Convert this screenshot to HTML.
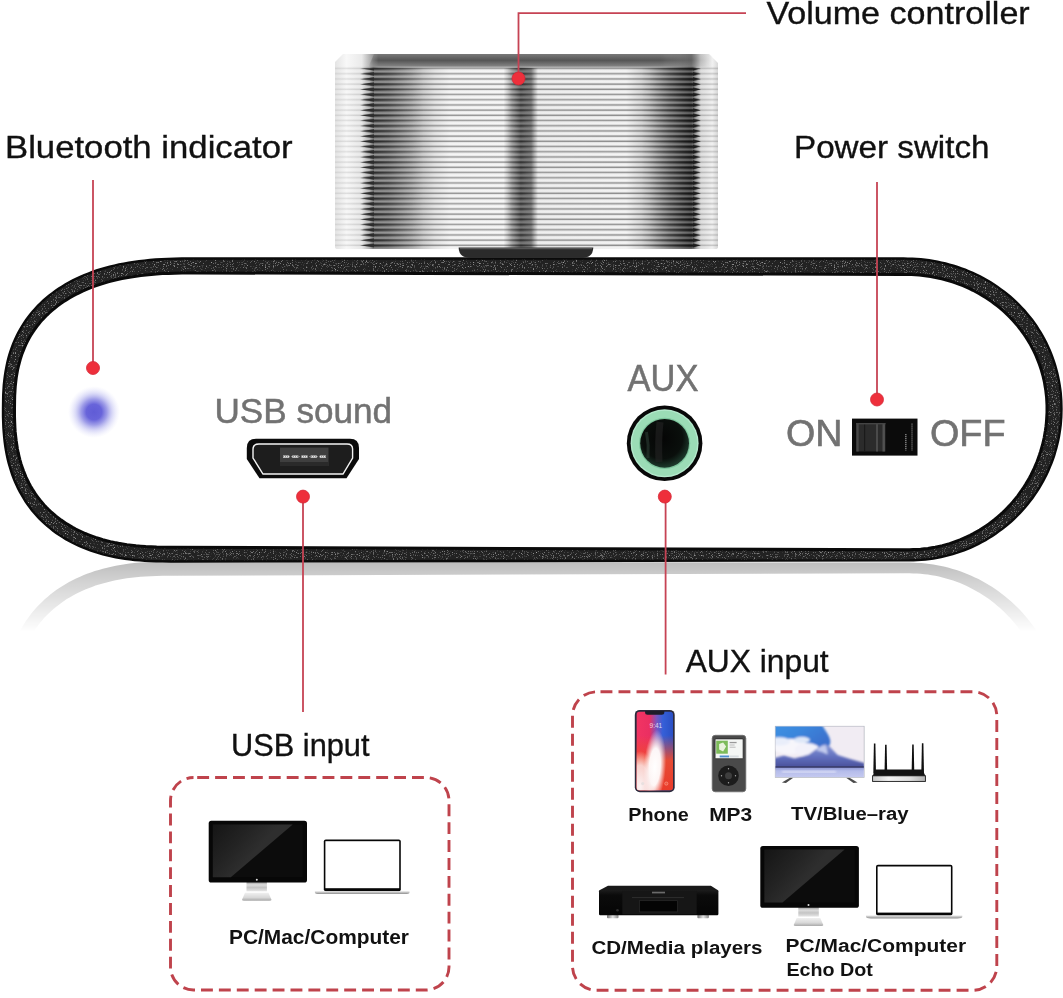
<!DOCTYPE html>
<html lang="en"><head><meta charset="utf-8"><title>Bluetooth amplifier ports</title>
<style>
html,body{margin:0;padding:0;background:#fff;}
body{width:1063px;height:998px;overflow:hidden;position:relative;}
svg{position:absolute;left:0;top:0;display:block;}
text{font-family:"Liberation Sans",sans-serif;}
#txt{opacity:0.999;}
</style></head><body>
<svg width="1063" height="998" viewBox="0 0 1063 998">
<defs>
<linearGradient id="knobH" x1="0" x2="1" y1="0" y2="0">
 <stop offset="0" stop-color="#e4e4e4"/>
 <stop offset="0.03" stop-color="#f8f8f8"/>
 <stop offset="0.07" stop-color="#eaeaea"/>
 <stop offset="0.10" stop-color="#9a9a9a"/>
 <stop offset="0.14" stop-color="#9c9c9c"/>
 <stop offset="0.20" stop-color="#bcbcbc"/>
 <stop offset="0.26" stop-color="#e8e8e8"/>
 <stop offset="0.30" stop-color="#f8f8f8"/>
 <stop offset="0.44" stop-color="#fafafa"/>
 <stop offset="0.462" stop-color="#b0b0b0"/>
 <stop offset="0.485" stop-color="#7c7c7c"/>
 <stop offset="0.512" stop-color="#868686"/>
 <stop offset="0.53" stop-color="#f2f2f2"/>
 <stop offset="0.76" stop-color="#f8f8f8"/>
 <stop offset="0.82" stop-color="#d0d0d0"/>
 <stop offset="0.875" stop-color="#969696"/>
 <stop offset="0.93" stop-color="#6a6a6a"/>
 <stop offset="0.955" stop-color="#e0e0e0"/>
 <stop offset="0.985" stop-color="#f2f2f2"/>
 <stop offset="1" stop-color="#d8d8d8"/>
</linearGradient>
<linearGradient id="ridge" x1="0" x2="0" y1="0" y2="1">
 <stop offset="0" stop-color="#000" stop-opacity="0.9"/>
 <stop offset="0.1" stop-color="#000" stop-opacity="0.6"/>
 <stop offset="0.24" stop-color="#000" stop-opacity="0.14"/>
 <stop offset="0.5" stop-color="#000" stop-opacity="0.0"/>
 <stop offset="0.84" stop-color="#000" stop-opacity="0.08"/>
 <stop offset="0.94" stop-color="#000" stop-opacity="0.5"/>
 <stop offset="1" stop-color="#000" stop-opacity="0.9"/>
</linearGradient>
<linearGradient id="ridge2" x1="0" x2="0" y1="0" y2="1">
 <stop offset="0" stop-color="#000" stop-opacity="0.8"/>
 <stop offset="0.3" stop-color="#000" stop-opacity="0.7"/>
 <stop offset="0.5" stop-color="#000" stop-opacity="0.1"/>
 <stop offset="0.7" stop-color="#000" stop-opacity="0.0"/>
 <stop offset="0.8" stop-color="#000" stop-opacity="0.3"/>
 <stop offset="1" stop-color="#000" stop-opacity="0.8"/>
</linearGradient>
<pattern id="ridges" x="0" y="68.3" width="10" height="5.2" patternUnits="userSpaceOnUse">
 <rect x="0" y="0" width="10" height="5.2" fill="url(#ridge)"/>
</pattern>
<pattern id="ridges2" x="0" y="68.3" width="10" height="5.2" patternUnits="userSpaceOnUse">
 <rect x="0" y="0" width="10" height="5.2" fill="url(#ridge2)"/>
</pattern>
<pattern id="teethL" x="0" y="68.3" width="20" height="5.2" patternUnits="userSpaceOnUse">
 <path d="M14 -1.5 L0 0.3 L14 2.2Z M14 3.7 L0 5.5 L14 7.4Z" fill="#2c2c2c"/>
</pattern>
<pattern id="teethR" x="693" y="68.3" width="20" height="5.2" patternUnits="userSpaceOnUse">
 <path d="M0 -1.5 L8 0.3 L0 2.2Z M0 3.7 L8 5.5 L0 7.4Z" fill="#1c1c1c"/>
</pattern>
<linearGradient id="ridgeMaskG" x1="0" x2="1" y1="0" y2="0">
 <stop offset="0" stop-color="#fff" stop-opacity="0.12"/>
 <stop offset="0.07" stop-color="#fff" stop-opacity="0.2"/>
 <stop offset="0.10" stop-color="#fff" stop-opacity="0.7"/>
 <stop offset="0.25" stop-color="#fff" stop-opacity="0.6"/>
 <stop offset="0.44" stop-color="#fff" stop-opacity="0.6"/>
 <stop offset="0.49" stop-color="#fff" stop-opacity="0.7"/>
 <stop offset="0.54" stop-color="#fff" stop-opacity="0.6"/>
 <stop offset="0.93" stop-color="#fff" stop-opacity="0.7"/>
 <stop offset="0.955" stop-color="#fff" stop-opacity="0.3"/>
 <stop offset="1" stop-color="#fff" stop-opacity="0.25"/>
</linearGradient>
<mask id="ridgeMask"><rect x="335" y="66" width="383" height="184" fill="url(#ridgeMaskG)"/></mask>
<linearGradient id="ridgeMaskG2" x1="0" x2="1" y1="0" y2="0">
 <stop offset="0.09" stop-color="#fff" stop-opacity="0"/>
 <stop offset="0.10" stop-color="#fff" stop-opacity="0.7"/>
 <stop offset="0.14" stop-color="#fff" stop-opacity="0.45"/>
 <stop offset="0.23" stop-color="#fff" stop-opacity="0"/>
 <stop offset="0.45" stop-color="#fff" stop-opacity="0"/>
 <stop offset="0.485" stop-color="#fff" stop-opacity="0.4"/>
 <stop offset="0.52" stop-color="#fff" stop-opacity="0"/>
 <stop offset="0.80" stop-color="#fff" stop-opacity="0"/>
 <stop offset="0.88" stop-color="#fff" stop-opacity="0.5"/>
 <stop offset="0.935" stop-color="#fff" stop-opacity="0.9"/>
 <stop offset="0.945" stop-color="#fff" stop-opacity="0"/>
</linearGradient>
<mask id="ridgeMask2"><rect x="335" y="66" width="383" height="184" fill="url(#ridgeMaskG2)"/></mask>
<linearGradient id="knobTop" x1="0" x2="0" y1="0" y2="1">
 <stop offset="0" stop-color="#7a7a7a"/>
 <stop offset="0.45" stop-color="#555"/>
 <stop offset="0.85" stop-color="#808080"/>
 <stop offset="1" stop-color="#e8e8e8"/>
</linearGradient>
<linearGradient id="knobTopM" x1="0" x2="1" y1="0" y2="0">
 <stop offset="0" stop-color="#fff" stop-opacity="0"/>
 <stop offset="0.03" stop-color="#fff" stop-opacity="1"/>
 <stop offset="0.85" stop-color="#fff" stop-opacity="1"/>
 <stop offset="0.96" stop-color="#fff" stop-opacity="0.3"/>
 <stop offset="1" stop-color="#fff" stop-opacity="0"/>
</linearGradient>
<mask id="knobTopMask"><rect x="368" y="50" width="345" height="20" fill="url(#knobTopM)"/></mask>
<radialGradient id="led">
 <stop offset="0" stop-color="#605cd6"/>
 <stop offset="0.3" stop-color="#6864da"/>
 <stop offset="0.5" stop-color="#8e8ce4" stop-opacity="0.85"/>
 <stop offset="0.72" stop-color="#b8b8f0" stop-opacity="0.5"/>
 <stop offset="1" stop-color="#dcdcfa" stop-opacity="0"/>
</radialGradient>
<filter id="noise" x="0" y="0" width="100%" height="100%">
 <feTurbulence type="fractalNoise" baseFrequency="0.9" numOctaves="2" seed="3" result="n"/>
 <feColorMatrix in="n" type="matrix" values="0 0 0 0 0.36  0 0 0 0 0.36  0 0 0 0 0.36  1.5 1.5 1.5 0 -2.45" result="a"/>
 <feComposite in="a" in2="SourceGraphic" operator="in" result="sp"/>
 <feMerge><feMergeNode in="SourceGraphic"/><feMergeNode in="sp"/></feMerge>
</filter>
<linearGradient id="reflMaskG" x1="0" x2="0" y1="561" y2="632" gradientUnits="userSpaceOnUse">
<stop offset="0" stop-color="#fff" stop-opacity="0.85"/><stop offset="0.25" stop-color="#fff" stop-opacity="0.6"/><stop offset="1" stop-color="#fff" stop-opacity="0"/></linearGradient>
<mask id="reflMask"><rect x="0" y="555" width="1063" height="90" fill="url(#reflMaskG)"/></mask><radialGradient id="jackIn" cx="0.45" cy="0.4" r="0.6">
<stop offset="0" stop-color="#050505"/><stop offset="0.7" stop-color="#0a0f0c"/><stop offset="1" stop-color="#1d3a2c"/></radialGradient></defs>
<g id="knob">
<path d="M343 54 H709 L718 63 V247 Q718 249 715 249 H338 Q335 249 335 247 V62Z" fill="url(#knobH)"/>
<path d="M374 54 H708 Q714 54 716 68 H368 Z" fill="url(#knobTop)" mask="url(#knobTopMask)"/>
<rect x="335" y="66" width="383" height="183" fill="url(#ridges)" mask="url(#ridgeMask)"/>
<rect x="335" y="66" width="383" height="183" fill="url(#ridges2)" mask="url(#ridgeMask2)"/>
<rect x="360" y="68.3" width="14" height="180" fill="url(#teethL)"/>
<rect x="693" y="68.3" width="8" height="180" fill="url(#teethR)"/>
</g>
<path d="M458.6 247.6 H593.3 Q593 257.6 583 257.6 H469 Q459 257.6 458.6 247.6Z" fill="#2b2b2b"/>
<path d="M460 248.6 H592" stroke="#555" stroke-width="1.2"/>
<g mask="url(#reflMask)"><g transform="translate(0,1123) scale(1,-1)"><path d="M3.0 409.0 L3.1 401.2 L3.2 395.3 L3.5 390.0 L3.8 385.0 L4.3 380.3 L4.9 375.7 L5.6 371.3 L6.4 367.0 L7.2 362.9 L8.2 358.8 L9.3 354.9 L10.5 351.1 L11.8 347.3 L13.2 343.7 L14.8 340.1 L16.4 336.6 L18.1 333.1 L19.9 329.8 L21.8 326.5 L23.8 323.3 L25.9 320.2 L28.1 317.2 L30.4 314.2 L32.9 311.3 L35.4 308.5 L38.0 305.7 L40.7 303.0 L43.4 300.4 L46.3 297.9 L49.3 295.5 L52.4 293.1 L55.6 290.8 L58.8 288.5 L62.2 286.4 L65.6 284.3 L69.2 282.3 L72.8 280.4 L76.5 278.6 L80.3 276.8 L84.3 275.1 L88.3 273.5 L92.4 272.0 L96.5 270.5 L100.8 269.2 L105.2 267.9 L109.7 266.7 L114.3 265.6 L119.0 264.5 L123.8 263.6 L128.8 262.7 L133.8 261.9 L139.0 261.2 L144.3 260.6 L149.9 260.0 L155.6 259.5 L161.5 259.2 L167.8 258.9 L174.5 258.7 L181.8 258.5 L191.6 258.5 L903.5 258.5 L907.9 258.6 L912.3 258.7 L916.5 259.0 L920.8 259.3 L925.0 259.8 L929.1 260.3 L933.3 261.0 L937.4 261.7 L941.5 262.6 L945.5 263.5 L949.5 264.6 L953.5 265.7 L957.4 267.0 L961.3 268.3 L965.1 269.7 L968.9 271.3 L972.7 272.9 L976.3 274.6 L980.0 276.4 L983.6 278.3 L987.1 280.3 L990.6 282.3 L994.0 284.5 L997.3 286.7 L1000.6 289.1 L1003.8 291.5 L1007.0 293.9 L1010.1 296.5 L1013.1 299.1 L1016.0 301.9 L1018.8 304.6 L1021.6 307.5 L1024.3 310.4 L1026.9 313.4 L1029.4 316.5 L1031.9 319.6 L1034.2 322.8 L1036.5 326.0 L1038.6 329.4 L1040.7 332.7 L1042.7 336.1 L1044.6 339.6 L1046.4 343.1 L1048.1 346.7 L1049.7 350.3 L1051.2 354.0 L1052.6 357.7 L1053.9 361.4 L1055.1 365.2 L1056.2 369.0 L1057.2 372.8 L1058.1 376.7 L1058.9 380.6 L1059.6 384.6 L1060.2 388.6 L1060.7 392.6 L1061.0 396.6 L1061.3 400.7 L1061.4 404.8 L1061.5 409.0 L1061.4 413.0 L1061.3 416.9 L1061.0 420.9 L1060.7 424.8 L1060.2 428.8 L1059.6 432.7 L1059.0 436.6 L1058.2 440.5 L1057.3 444.3 L1056.3 448.2 L1055.2 452.0 L1054.1 455.8 L1052.8 459.5 L1051.4 463.2 L1049.9 466.9 L1048.4 470.6 L1046.7 474.2 L1044.9 477.7 L1043.1 481.2 L1041.1 484.7 L1039.1 488.1 L1037.0 491.4 L1034.8 494.7 L1032.5 498.0 L1030.1 501.1 L1027.6 504.3 L1025.1 507.3 L1022.5 510.3 L1019.8 513.2 L1017.0 516.0 L1014.1 518.8 L1011.2 521.5 L1008.2 524.1 L1005.2 526.6 L1002.0 529.1 L998.8 531.4 L995.6 533.7 L992.3 535.9 L988.9 538.1 L985.5 540.1 L982.0 542.0 L978.5 543.9 L974.9 545.6 L971.3 547.3 L967.7 548.8 L964.0 550.3 L960.2 551.7 L956.5 552.9 L952.7 554.1 L948.8 555.2 L945.0 556.2 L941.1 557.0 L937.2 557.8 L933.3 558.5 L929.3 559.1 L925.4 559.5 L921.4 559.9 L917.5 560.1 L913.5 560.3 L909.5 560.4 L171.0 561.5 L162.6 561.4 L156.2 561.3 L150.3 561.1 L144.8 560.8 L139.6 560.4 L134.5 560.0 L129.6 559.4 L124.9 558.8 L120.3 558.0 L115.8 557.2 L111.4 556.3 L107.1 555.3 L102.9 554.3 L98.8 553.1 L94.8 551.9 L90.9 550.6 L87.0 549.2 L83.3 547.7 L79.6 546.1 L76.0 544.5 L72.5 542.7 L69.1 540.9 L65.8 539.1 L62.5 537.1 L59.3 535.0 L56.2 532.9 L53.2 530.7 L50.3 528.4 L47.5 526.1 L44.7 523.7 L42.0 521.1 L39.4 518.6 L36.9 515.9 L34.5 513.2 L32.1 510.4 L29.9 507.5 L27.7 504.5 L25.6 501.5 L23.7 498.4 L21.8 495.2 L19.9 491.9 L18.2 488.6 L16.6 485.2 L15.0 481.7 L13.6 478.2 L12.2 474.5 L11.0 470.8 L9.8 467.0 L8.7 463.1 L7.7 459.1 L6.8 455.1 L6.0 450.9 L5.3 446.6 L4.7 442.1 L4.2 437.5 L3.8 432.8 L3.4 427.8 L3.2 422.5 L3.0 416.6 L3.0 409.0Z M14.5 409.1 L14.6 401.4 L14.7 395.8 L15.0 390.7 L15.3 386.0 L15.8 381.5 L16.3 377.3 L17.0 373.2 L17.7 369.3 L18.6 365.5 L19.6 361.8 L20.6 358.2 L21.7 354.8 L23.0 351.4 L24.3 348.1 L25.7 344.9 L27.2 341.8 L28.8 338.8 L30.5 335.8 L32.3 332.9 L34.2 330.1 L36.2 327.4 L38.2 324.7 L40.3 322.1 L42.5 319.6 L44.8 317.2 L47.2 314.8 L49.7 312.5 L52.3 310.2 L54.9 308.0 L57.6 305.9 L60.4 303.8 L63.3 301.8 L66.3 299.9 L69.4 298.0 L72.5 296.2 L75.8 294.4 L79.1 292.8 L82.5 291.1 L86.0 289.6 L89.6 288.1 L93.3 286.7 L97.1 285.3 L101.0 284.0 L105.0 282.8 L109.1 281.6 L113.3 280.5 L117.6 279.5 L122.0 278.6 L126.5 277.7 L131.1 276.9 L135.9 276.2 L140.8 275.5 L145.9 274.9 L151.2 274.4 L156.6 274.0 L162.3 273.6 L168.3 273.4 L174.8 273.2 L182.0 273.0 L191.6 273.0 L903.5 274.4 L907.6 274.4 L911.5 274.6 L915.4 274.8 L919.2 275.1 L923.1 275.5 L926.8 276.0 L930.6 276.6 L934.3 277.3 L938.0 278.0 L941.7 278.9 L945.3 279.8 L948.9 280.8 L952.4 281.9 L956.0 283.1 L959.4 284.4 L962.9 285.7 L966.3 287.2 L969.6 288.7 L972.9 290.3 L976.1 292.0 L979.3 293.7 L982.5 295.6 L985.6 297.5 L988.6 299.5 L991.6 301.5 L994.5 303.7 L997.3 305.9 L1000.1 308.1 L1002.8 310.5 L1005.5 312.9 L1008.1 315.4 L1010.6 317.9 L1013.0 320.5 L1015.4 323.2 L1017.7 325.9 L1019.9 328.7 L1022.0 331.5 L1024.1 334.4 L1026.1 337.4 L1028.0 340.4 L1029.8 343.4 L1031.5 346.5 L1033.1 349.7 L1034.7 352.9 L1036.2 356.1 L1037.5 359.4 L1038.8 362.7 L1040.0 366.0 L1041.1 369.4 L1042.1 372.9 L1043.1 376.3 L1043.9 379.8 L1044.6 383.3 L1045.2 386.9 L1045.8 390.5 L1046.2 394.1 L1046.6 397.7 L1046.8 401.4 L1047.0 405.1 L1047.0 409.0 L1047.0 412.6 L1046.8 416.2 L1046.6 419.7 L1046.3 423.3 L1045.9 426.9 L1045.4 430.4 L1044.8 434.0 L1044.2 437.5 L1043.4 441.0 L1042.6 444.5 L1041.6 447.9 L1040.6 451.4 L1039.5 454.8 L1038.3 458.2 L1037.1 461.6 L1035.7 464.9 L1034.3 468.2 L1032.7 471.5 L1031.1 474.7 L1029.4 477.9 L1027.6 481.0 L1025.8 484.1 L1023.8 487.2 L1021.8 490.2 L1019.7 493.2 L1017.6 496.1 L1015.3 498.9 L1013.0 501.7 L1010.6 504.4 L1008.1 507.1 L1005.5 509.7 L1002.9 512.3 L1000.3 514.7 L997.5 517.1 L994.7 519.5 L991.8 521.7 L988.9 523.9 L985.9 526.0 L982.8 528.0 L979.7 530.0 L976.5 531.8 L973.3 533.6 L970.0 535.3 L966.7 536.9 L963.4 538.4 L960.0 539.9 L956.5 541.2 L953.1 542.4 L949.6 543.6 L946.0 544.6 L942.4 545.6 L938.9 546.4 L935.2 547.2 L931.6 547.8 L927.9 548.4 L924.3 548.8 L920.6 549.2 L916.9 549.5 L913.2 549.6 L909.5 549.7 L171.0 547.3 L162.8 547.2 L156.6 547.1 L151.0 546.8 L145.7 546.6 L140.7 546.2 L136.0 545.8 L131.4 545.2 L126.9 544.7 L122.6 544.0 L118.5 543.3 L114.4 542.5 L110.4 541.6 L106.6 540.6 L102.8 539.6 L99.1 538.5 L95.5 537.4 L92.0 536.1 L88.6 534.8 L85.2 533.5 L82.0 532.0 L78.8 530.5 L75.7 529.0 L72.6 527.3 L69.7 525.6 L66.8 523.9 L64.0 522.0 L61.2 520.1 L58.6 518.1 L56.0 516.1 L53.5 514.0 L51.0 511.8 L48.6 509.6 L46.3 507.3 L44.1 504.9 L42.0 502.4 L39.9 499.9 L37.9 497.3 L35.9 494.7 L34.1 491.9 L32.3 489.1 L30.6 486.2 L29.0 483.2 L27.5 480.2 L26.0 477.1 L24.7 473.9 L23.4 470.6 L22.2 467.2 L21.0 463.7 L20.0 460.1 L19.1 456.5 L18.2 452.7 L17.4 448.8 L16.8 444.8 L16.2 440.7 L15.7 436.4 L15.2 431.9 L14.9 427.1 L14.7 422.1 L14.5 416.4 L14.5 408.9Z" fill="#b0b0b0" fill-rule="evenodd"/></g></g>
<path d="M3.0 409.0 L3.1 401.2 L3.2 395.3 L3.5 390.0 L3.8 385.0 L4.3 380.3 L4.9 375.7 L5.6 371.3 L6.4 367.0 L7.2 362.9 L8.2 358.8 L9.3 354.9 L10.5 351.1 L11.8 347.3 L13.2 343.7 L14.8 340.1 L16.4 336.6 L18.1 333.1 L19.9 329.8 L21.8 326.5 L23.8 323.3 L25.9 320.2 L28.1 317.2 L30.4 314.2 L32.9 311.3 L35.4 308.5 L38.0 305.7 L40.7 303.0 L43.4 300.4 L46.3 297.9 L49.3 295.5 L52.4 293.1 L55.6 290.8 L58.8 288.5 L62.2 286.4 L65.6 284.3 L69.2 282.3 L72.8 280.4 L76.5 278.6 L80.3 276.8 L84.3 275.1 L88.3 273.5 L92.4 272.0 L96.5 270.5 L100.8 269.2 L105.2 267.9 L109.7 266.7 L114.3 265.6 L119.0 264.5 L123.8 263.6 L128.8 262.7 L133.8 261.9 L139.0 261.2 L144.3 260.6 L149.9 260.0 L155.6 259.5 L161.5 259.2 L167.8 258.9 L174.5 258.7 L181.8 258.5 L191.6 258.5 L903.5 258.5 L907.9 258.6 L912.3 258.7 L916.5 259.0 L920.8 259.3 L925.0 259.8 L929.1 260.3 L933.3 261.0 L937.4 261.7 L941.5 262.6 L945.5 263.5 L949.5 264.6 L953.5 265.7 L957.4 267.0 L961.3 268.3 L965.1 269.7 L968.9 271.3 L972.7 272.9 L976.3 274.6 L980.0 276.4 L983.6 278.3 L987.1 280.3 L990.6 282.3 L994.0 284.5 L997.3 286.7 L1000.6 289.1 L1003.8 291.5 L1007.0 293.9 L1010.1 296.5 L1013.1 299.1 L1016.0 301.9 L1018.8 304.6 L1021.6 307.5 L1024.3 310.4 L1026.9 313.4 L1029.4 316.5 L1031.9 319.6 L1034.2 322.8 L1036.5 326.0 L1038.6 329.4 L1040.7 332.7 L1042.7 336.1 L1044.6 339.6 L1046.4 343.1 L1048.1 346.7 L1049.7 350.3 L1051.2 354.0 L1052.6 357.7 L1053.9 361.4 L1055.1 365.2 L1056.2 369.0 L1057.2 372.8 L1058.1 376.7 L1058.9 380.6 L1059.6 384.6 L1060.2 388.6 L1060.7 392.6 L1061.0 396.6 L1061.3 400.7 L1061.4 404.8 L1061.5 409.0 L1061.4 413.0 L1061.3 416.9 L1061.0 420.9 L1060.7 424.8 L1060.2 428.8 L1059.6 432.7 L1059.0 436.6 L1058.2 440.5 L1057.3 444.3 L1056.3 448.2 L1055.2 452.0 L1054.1 455.8 L1052.8 459.5 L1051.4 463.2 L1049.9 466.9 L1048.4 470.6 L1046.7 474.2 L1044.9 477.7 L1043.1 481.2 L1041.1 484.7 L1039.1 488.1 L1037.0 491.4 L1034.8 494.7 L1032.5 498.0 L1030.1 501.1 L1027.6 504.3 L1025.1 507.3 L1022.5 510.3 L1019.8 513.2 L1017.0 516.0 L1014.1 518.8 L1011.2 521.5 L1008.2 524.1 L1005.2 526.6 L1002.0 529.1 L998.8 531.4 L995.6 533.7 L992.3 535.9 L988.9 538.1 L985.5 540.1 L982.0 542.0 L978.5 543.9 L974.9 545.6 L971.3 547.3 L967.7 548.8 L964.0 550.3 L960.2 551.7 L956.5 552.9 L952.7 554.1 L948.8 555.2 L945.0 556.2 L941.1 557.0 L937.2 557.8 L933.3 558.5 L929.3 559.1 L925.4 559.5 L921.4 559.9 L917.5 560.1 L913.5 560.3 L909.5 560.4 L171.0 561.5 L162.6 561.4 L156.2 561.3 L150.3 561.1 L144.8 560.8 L139.6 560.4 L134.5 560.0 L129.6 559.4 L124.9 558.8 L120.3 558.0 L115.8 557.2 L111.4 556.3 L107.1 555.3 L102.9 554.3 L98.8 553.1 L94.8 551.9 L90.9 550.6 L87.0 549.2 L83.3 547.7 L79.6 546.1 L76.0 544.5 L72.5 542.7 L69.1 540.9 L65.8 539.1 L62.5 537.1 L59.3 535.0 L56.2 532.9 L53.2 530.7 L50.3 528.4 L47.5 526.1 L44.7 523.7 L42.0 521.1 L39.4 518.6 L36.9 515.9 L34.5 513.2 L32.1 510.4 L29.9 507.5 L27.7 504.5 L25.6 501.5 L23.7 498.4 L21.8 495.2 L19.9 491.9 L18.2 488.6 L16.6 485.2 L15.0 481.7 L13.6 478.2 L12.2 474.5 L11.0 470.8 L9.8 467.0 L8.7 463.1 L7.7 459.1 L6.8 455.1 L6.0 450.9 L5.3 446.6 L4.7 442.1 L4.2 437.5 L3.8 432.8 L3.4 427.8 L3.2 422.5 L3.0 416.6 L3.0 409.0Z" fill="#fff"/>
<path d="M3.0 409.0 L3.1 401.2 L3.2 395.3 L3.5 390.0 L3.8 385.0 L4.3 380.3 L4.9 375.7 L5.6 371.3 L6.4 367.0 L7.2 362.9 L8.2 358.8 L9.3 354.9 L10.5 351.1 L11.8 347.3 L13.2 343.7 L14.8 340.1 L16.4 336.6 L18.1 333.1 L19.9 329.8 L21.8 326.5 L23.8 323.3 L25.9 320.2 L28.1 317.2 L30.4 314.2 L32.9 311.3 L35.4 308.5 L38.0 305.7 L40.7 303.0 L43.4 300.4 L46.3 297.9 L49.3 295.5 L52.4 293.1 L55.6 290.8 L58.8 288.5 L62.2 286.4 L65.6 284.3 L69.2 282.3 L72.8 280.4 L76.5 278.6 L80.3 276.8 L84.3 275.1 L88.3 273.5 L92.4 272.0 L96.5 270.5 L100.8 269.2 L105.2 267.9 L109.7 266.7 L114.3 265.6 L119.0 264.5 L123.8 263.6 L128.8 262.7 L133.8 261.9 L139.0 261.2 L144.3 260.6 L149.9 260.0 L155.6 259.5 L161.5 259.2 L167.8 258.9 L174.5 258.7 L181.8 258.5 L191.6 258.5 L903.5 258.5 L907.9 258.6 L912.3 258.7 L916.5 259.0 L920.8 259.3 L925.0 259.8 L929.1 260.3 L933.3 261.0 L937.4 261.7 L941.5 262.6 L945.5 263.5 L949.5 264.6 L953.5 265.7 L957.4 267.0 L961.3 268.3 L965.1 269.7 L968.9 271.3 L972.7 272.9 L976.3 274.6 L980.0 276.4 L983.6 278.3 L987.1 280.3 L990.6 282.3 L994.0 284.5 L997.3 286.7 L1000.6 289.1 L1003.8 291.5 L1007.0 293.9 L1010.1 296.5 L1013.1 299.1 L1016.0 301.9 L1018.8 304.6 L1021.6 307.5 L1024.3 310.4 L1026.9 313.4 L1029.4 316.5 L1031.9 319.6 L1034.2 322.8 L1036.5 326.0 L1038.6 329.4 L1040.7 332.7 L1042.7 336.1 L1044.6 339.6 L1046.4 343.1 L1048.1 346.7 L1049.7 350.3 L1051.2 354.0 L1052.6 357.7 L1053.9 361.4 L1055.1 365.2 L1056.2 369.0 L1057.2 372.8 L1058.1 376.7 L1058.9 380.6 L1059.6 384.6 L1060.2 388.6 L1060.7 392.6 L1061.0 396.6 L1061.3 400.7 L1061.4 404.8 L1061.5 409.0 L1061.4 413.0 L1061.3 416.9 L1061.0 420.9 L1060.7 424.8 L1060.2 428.8 L1059.6 432.7 L1059.0 436.6 L1058.2 440.5 L1057.3 444.3 L1056.3 448.2 L1055.2 452.0 L1054.1 455.8 L1052.8 459.5 L1051.4 463.2 L1049.9 466.9 L1048.4 470.6 L1046.7 474.2 L1044.9 477.7 L1043.1 481.2 L1041.1 484.7 L1039.1 488.1 L1037.0 491.4 L1034.8 494.7 L1032.5 498.0 L1030.1 501.1 L1027.6 504.3 L1025.1 507.3 L1022.5 510.3 L1019.8 513.2 L1017.0 516.0 L1014.1 518.8 L1011.2 521.5 L1008.2 524.1 L1005.2 526.6 L1002.0 529.1 L998.8 531.4 L995.6 533.7 L992.3 535.9 L988.9 538.1 L985.5 540.1 L982.0 542.0 L978.5 543.9 L974.9 545.6 L971.3 547.3 L967.7 548.8 L964.0 550.3 L960.2 551.7 L956.5 552.9 L952.7 554.1 L948.8 555.2 L945.0 556.2 L941.1 557.0 L937.2 557.8 L933.3 558.5 L929.3 559.1 L925.4 559.5 L921.4 559.9 L917.5 560.1 L913.5 560.3 L909.5 560.4 L171.0 561.5 L162.6 561.4 L156.2 561.3 L150.3 561.1 L144.8 560.8 L139.6 560.4 L134.5 560.0 L129.6 559.4 L124.9 558.8 L120.3 558.0 L115.8 557.2 L111.4 556.3 L107.1 555.3 L102.9 554.3 L98.8 553.1 L94.8 551.9 L90.9 550.6 L87.0 549.2 L83.3 547.7 L79.6 546.1 L76.0 544.5 L72.5 542.7 L69.1 540.9 L65.8 539.1 L62.5 537.1 L59.3 535.0 L56.2 532.9 L53.2 530.7 L50.3 528.4 L47.5 526.1 L44.7 523.7 L42.0 521.1 L39.4 518.6 L36.9 515.9 L34.5 513.2 L32.1 510.4 L29.9 507.5 L27.7 504.5 L25.6 501.5 L23.7 498.4 L21.8 495.2 L19.9 491.9 L18.2 488.6 L16.6 485.2 L15.0 481.7 L13.6 478.2 L12.2 474.5 L11.0 470.8 L9.8 467.0 L8.7 463.1 L7.7 459.1 L6.8 455.1 L6.0 450.9 L5.3 446.6 L4.7 442.1 L4.2 437.5 L3.8 432.8 L3.4 427.8 L3.2 422.5 L3.0 416.6 L3.0 409.0Z M14.5 409.1 L14.6 401.4 L14.7 395.8 L15.0 390.7 L15.3 386.0 L15.8 381.5 L16.3 377.3 L17.0 373.2 L17.7 369.3 L18.6 365.5 L19.6 361.8 L20.6 358.2 L21.7 354.8 L23.0 351.4 L24.3 348.1 L25.7 344.9 L27.2 341.8 L28.8 338.8 L30.5 335.8 L32.3 332.9 L34.2 330.1 L36.2 327.4 L38.2 324.7 L40.3 322.1 L42.5 319.6 L44.8 317.2 L47.2 314.8 L49.7 312.5 L52.3 310.2 L54.9 308.0 L57.6 305.9 L60.4 303.8 L63.3 301.8 L66.3 299.9 L69.4 298.0 L72.5 296.2 L75.8 294.4 L79.1 292.8 L82.5 291.1 L86.0 289.6 L89.6 288.1 L93.3 286.7 L97.1 285.3 L101.0 284.0 L105.0 282.8 L109.1 281.6 L113.3 280.5 L117.6 279.5 L122.0 278.6 L126.5 277.7 L131.1 276.9 L135.9 276.2 L140.8 275.5 L145.9 274.9 L151.2 274.4 L156.6 274.0 L162.3 273.6 L168.3 273.4 L174.8 273.2 L182.0 273.0 L191.6 273.0 L903.5 274.4 L907.6 274.4 L911.5 274.6 L915.4 274.8 L919.2 275.1 L923.1 275.5 L926.8 276.0 L930.6 276.6 L934.3 277.3 L938.0 278.0 L941.7 278.9 L945.3 279.8 L948.9 280.8 L952.4 281.9 L956.0 283.1 L959.4 284.4 L962.9 285.7 L966.3 287.2 L969.6 288.7 L972.9 290.3 L976.1 292.0 L979.3 293.7 L982.5 295.6 L985.6 297.5 L988.6 299.5 L991.6 301.5 L994.5 303.7 L997.3 305.9 L1000.1 308.1 L1002.8 310.5 L1005.5 312.9 L1008.1 315.4 L1010.6 317.9 L1013.0 320.5 L1015.4 323.2 L1017.7 325.9 L1019.9 328.7 L1022.0 331.5 L1024.1 334.4 L1026.1 337.4 L1028.0 340.4 L1029.8 343.4 L1031.5 346.5 L1033.1 349.7 L1034.7 352.9 L1036.2 356.1 L1037.5 359.4 L1038.8 362.7 L1040.0 366.0 L1041.1 369.4 L1042.1 372.9 L1043.1 376.3 L1043.9 379.8 L1044.6 383.3 L1045.2 386.9 L1045.8 390.5 L1046.2 394.1 L1046.6 397.7 L1046.8 401.4 L1047.0 405.1 L1047.0 409.0 L1047.0 412.6 L1046.8 416.2 L1046.6 419.7 L1046.3 423.3 L1045.9 426.9 L1045.4 430.4 L1044.8 434.0 L1044.2 437.5 L1043.4 441.0 L1042.6 444.5 L1041.6 447.9 L1040.6 451.4 L1039.5 454.8 L1038.3 458.2 L1037.1 461.6 L1035.7 464.9 L1034.3 468.2 L1032.7 471.5 L1031.1 474.7 L1029.4 477.9 L1027.6 481.0 L1025.8 484.1 L1023.8 487.2 L1021.8 490.2 L1019.7 493.2 L1017.6 496.1 L1015.3 498.9 L1013.0 501.7 L1010.6 504.4 L1008.1 507.1 L1005.5 509.7 L1002.9 512.3 L1000.3 514.7 L997.5 517.1 L994.7 519.5 L991.8 521.7 L988.9 523.9 L985.9 526.0 L982.8 528.0 L979.7 530.0 L976.5 531.8 L973.3 533.6 L970.0 535.3 L966.7 536.9 L963.4 538.4 L960.0 539.9 L956.5 541.2 L953.1 542.4 L949.6 543.6 L946.0 544.6 L942.4 545.6 L938.9 546.4 L935.2 547.2 L931.6 547.8 L927.9 548.4 L924.3 548.8 L920.6 549.2 L916.9 549.5 L913.2 549.6 L909.5 549.7 L171.0 547.3 L162.8 547.2 L156.6 547.1 L151.0 546.8 L145.7 546.6 L140.7 546.2 L136.0 545.8 L131.4 545.2 L126.9 544.7 L122.6 544.0 L118.5 543.3 L114.4 542.5 L110.4 541.6 L106.6 540.6 L102.8 539.6 L99.1 538.5 L95.5 537.4 L92.0 536.1 L88.6 534.8 L85.2 533.5 L82.0 532.0 L78.8 530.5 L75.7 529.0 L72.6 527.3 L69.7 525.6 L66.8 523.9 L64.0 522.0 L61.2 520.1 L58.6 518.1 L56.0 516.1 L53.5 514.0 L51.0 511.8 L48.6 509.6 L46.3 507.3 L44.1 504.9 L42.0 502.4 L39.9 499.9 L37.9 497.3 L35.9 494.7 L34.1 491.9 L32.3 489.1 L30.6 486.2 L29.0 483.2 L27.5 480.2 L26.0 477.1 L24.7 473.9 L23.4 470.6 L22.2 467.2 L21.0 463.7 L20.0 460.1 L19.1 456.5 L18.2 452.7 L17.4 448.8 L16.8 444.8 L16.2 440.7 L15.7 436.4 L15.2 431.9 L14.9 427.1 L14.7 422.1 L14.5 416.4 L14.5 408.9Z" fill="#222" fill-rule="evenodd" filter="url(#noise)"/>
<path d="M3.0 409.0 L3.1 401.2 L3.2 395.3 L3.5 390.0 L3.8 385.0 L4.3 380.3 L4.9 375.7 L5.6 371.3 L6.4 367.0 L7.2 362.9 L8.2 358.8 L9.3 354.9 L10.5 351.1 L11.8 347.3 L13.2 343.7 L14.8 340.1 L16.4 336.6 L18.1 333.1 L19.9 329.8 L21.8 326.5 L23.8 323.3 L25.9 320.2 L28.1 317.2 L30.4 314.2 L32.9 311.3 L35.4 308.5 L38.0 305.7 L40.7 303.0 L43.4 300.4 L46.3 297.9 L49.3 295.5 L52.4 293.1 L55.6 290.8 L58.8 288.5 L62.2 286.4 L65.6 284.3 L69.2 282.3 L72.8 280.4 L76.5 278.6 L80.3 276.8 L84.3 275.1 L88.3 273.5 L92.4 272.0 L96.5 270.5 L100.8 269.2 L105.2 267.9 L109.7 266.7 L114.3 265.6 L119.0 264.5 L123.8 263.6 L128.8 262.7 L133.8 261.9 L139.0 261.2 L144.3 260.6 L149.9 260.0 L155.6 259.5 L161.5 259.2 L167.8 258.9 L174.5 258.7 L181.8 258.5 L191.6 258.5 L903.5 258.5 L907.9 258.6 L912.3 258.7 L916.5 259.0 L920.8 259.3 L925.0 259.8 L929.1 260.3 L933.3 261.0 L937.4 261.7 L941.5 262.6 L945.5 263.5 L949.5 264.6 L953.5 265.7 L957.4 267.0 L961.3 268.3 L965.1 269.7 L968.9 271.3 L972.7 272.9 L976.3 274.6 L980.0 276.4 L983.6 278.3 L987.1 280.3 L990.6 282.3 L994.0 284.5 L997.3 286.7 L1000.6 289.1 L1003.8 291.5 L1007.0 293.9 L1010.1 296.5 L1013.1 299.1 L1016.0 301.9 L1018.8 304.6 L1021.6 307.5 L1024.3 310.4 L1026.9 313.4 L1029.4 316.5 L1031.9 319.6 L1034.2 322.8 L1036.5 326.0 L1038.6 329.4 L1040.7 332.7 L1042.7 336.1 L1044.6 339.6 L1046.4 343.1 L1048.1 346.7 L1049.7 350.3 L1051.2 354.0 L1052.6 357.7 L1053.9 361.4 L1055.1 365.2 L1056.2 369.0 L1057.2 372.8 L1058.1 376.7 L1058.9 380.6 L1059.6 384.6 L1060.2 388.6 L1060.7 392.6 L1061.0 396.6 L1061.3 400.7 L1061.4 404.8 L1061.5 409.0 L1061.4 413.0 L1061.3 416.9 L1061.0 420.9 L1060.7 424.8 L1060.2 428.8 L1059.6 432.7 L1059.0 436.6 L1058.2 440.5 L1057.3 444.3 L1056.3 448.2 L1055.2 452.0 L1054.1 455.8 L1052.8 459.5 L1051.4 463.2 L1049.9 466.9 L1048.4 470.6 L1046.7 474.2 L1044.9 477.7 L1043.1 481.2 L1041.1 484.7 L1039.1 488.1 L1037.0 491.4 L1034.8 494.7 L1032.5 498.0 L1030.1 501.1 L1027.6 504.3 L1025.1 507.3 L1022.5 510.3 L1019.8 513.2 L1017.0 516.0 L1014.1 518.8 L1011.2 521.5 L1008.2 524.1 L1005.2 526.6 L1002.0 529.1 L998.8 531.4 L995.6 533.7 L992.3 535.9 L988.9 538.1 L985.5 540.1 L982.0 542.0 L978.5 543.9 L974.9 545.6 L971.3 547.3 L967.7 548.8 L964.0 550.3 L960.2 551.7 L956.5 552.9 L952.7 554.1 L948.8 555.2 L945.0 556.2 L941.1 557.0 L937.2 557.8 L933.3 558.5 L929.3 559.1 L925.4 559.5 L921.4 559.9 L917.5 560.1 L913.5 560.3 L909.5 560.4 L171.0 561.5 L162.6 561.4 L156.2 561.3 L150.3 561.1 L144.8 560.8 L139.6 560.4 L134.5 560.0 L129.6 559.4 L124.9 558.8 L120.3 558.0 L115.8 557.2 L111.4 556.3 L107.1 555.3 L102.9 554.3 L98.8 553.1 L94.8 551.9 L90.9 550.6 L87.0 549.2 L83.3 547.7 L79.6 546.1 L76.0 544.5 L72.5 542.7 L69.1 540.9 L65.8 539.1 L62.5 537.1 L59.3 535.0 L56.2 532.9 L53.2 530.7 L50.3 528.4 L47.5 526.1 L44.7 523.7 L42.0 521.1 L39.4 518.6 L36.9 515.9 L34.5 513.2 L32.1 510.4 L29.9 507.5 L27.7 504.5 L25.6 501.5 L23.7 498.4 L21.8 495.2 L19.9 491.9 L18.2 488.6 L16.6 485.2 L15.0 481.7 L13.6 478.2 L12.2 474.5 L11.0 470.8 L9.8 467.0 L8.7 463.1 L7.7 459.1 L6.8 455.1 L6.0 450.9 L5.3 446.6 L4.7 442.1 L4.2 437.5 L3.8 432.8 L3.4 427.8 L3.2 422.5 L3.0 416.6 L3.0 409.0Z" fill="none" stroke="#0a0a0a" stroke-width="2.4"/>
<path d="M14.5 409.1 L14.6 401.4 L14.7 395.8 L15.0 390.7 L15.3 386.0 L15.8 381.5 L16.3 377.3 L17.0 373.2 L17.7 369.3 L18.6 365.5 L19.6 361.8 L20.6 358.2 L21.7 354.8 L23.0 351.4 L24.3 348.1 L25.7 344.9 L27.2 341.8 L28.8 338.8 L30.5 335.8 L32.3 332.9 L34.2 330.1 L36.2 327.4 L38.2 324.7 L40.3 322.1 L42.5 319.6 L44.8 317.2 L47.2 314.8 L49.7 312.5 L52.3 310.2 L54.9 308.0 L57.6 305.9 L60.4 303.8 L63.3 301.8 L66.3 299.9 L69.4 298.0 L72.5 296.2 L75.8 294.4 L79.1 292.8 L82.5 291.1 L86.0 289.6 L89.6 288.1 L93.3 286.7 L97.1 285.3 L101.0 284.0 L105.0 282.8 L109.1 281.6 L113.3 280.5 L117.6 279.5 L122.0 278.6 L126.5 277.7 L131.1 276.9 L135.9 276.2 L140.8 275.5 L145.9 274.9 L151.2 274.4 L156.6 274.0 L162.3 273.6 L168.3 273.4 L174.8 273.2 L182.0 273.0 L191.6 273.0 L903.5 274.4 L907.6 274.4 L911.5 274.6 L915.4 274.8 L919.2 275.1 L923.1 275.5 L926.8 276.0 L930.6 276.6 L934.3 277.3 L938.0 278.0 L941.7 278.9 L945.3 279.8 L948.9 280.8 L952.4 281.9 L956.0 283.1 L959.4 284.4 L962.9 285.7 L966.3 287.2 L969.6 288.7 L972.9 290.3 L976.1 292.0 L979.3 293.7 L982.5 295.6 L985.6 297.5 L988.6 299.5 L991.6 301.5 L994.5 303.7 L997.3 305.9 L1000.1 308.1 L1002.8 310.5 L1005.5 312.9 L1008.1 315.4 L1010.6 317.9 L1013.0 320.5 L1015.4 323.2 L1017.7 325.9 L1019.9 328.7 L1022.0 331.5 L1024.1 334.4 L1026.1 337.4 L1028.0 340.4 L1029.8 343.4 L1031.5 346.5 L1033.1 349.7 L1034.7 352.9 L1036.2 356.1 L1037.5 359.4 L1038.8 362.7 L1040.0 366.0 L1041.1 369.4 L1042.1 372.9 L1043.1 376.3 L1043.9 379.8 L1044.6 383.3 L1045.2 386.9 L1045.8 390.5 L1046.2 394.1 L1046.6 397.7 L1046.8 401.4 L1047.0 405.1 L1047.0 409.0 L1047.0 412.6 L1046.8 416.2 L1046.6 419.7 L1046.3 423.3 L1045.9 426.9 L1045.4 430.4 L1044.8 434.0 L1044.2 437.5 L1043.4 441.0 L1042.6 444.5 L1041.6 447.9 L1040.6 451.4 L1039.5 454.8 L1038.3 458.2 L1037.1 461.6 L1035.7 464.9 L1034.3 468.2 L1032.7 471.5 L1031.1 474.7 L1029.4 477.9 L1027.6 481.0 L1025.8 484.1 L1023.8 487.2 L1021.8 490.2 L1019.7 493.2 L1017.6 496.1 L1015.3 498.9 L1013.0 501.7 L1010.6 504.4 L1008.1 507.1 L1005.5 509.7 L1002.9 512.3 L1000.3 514.7 L997.5 517.1 L994.7 519.5 L991.8 521.7 L988.9 523.9 L985.9 526.0 L982.8 528.0 L979.7 530.0 L976.5 531.8 L973.3 533.6 L970.0 535.3 L966.7 536.9 L963.4 538.4 L960.0 539.9 L956.5 541.2 L953.1 542.4 L949.6 543.6 L946.0 544.6 L942.4 545.6 L938.9 546.4 L935.2 547.2 L931.6 547.8 L927.9 548.4 L924.3 548.8 L920.6 549.2 L916.9 549.5 L913.2 549.6 L909.5 549.7 L171.0 547.3 L162.8 547.2 L156.6 547.1 L151.0 546.8 L145.7 546.6 L140.7 546.2 L136.0 545.8 L131.4 545.2 L126.9 544.7 L122.6 544.0 L118.5 543.3 L114.4 542.5 L110.4 541.6 L106.6 540.6 L102.8 539.6 L99.1 538.5 L95.5 537.4 L92.0 536.1 L88.6 534.8 L85.2 533.5 L82.0 532.0 L78.8 530.5 L75.7 529.0 L72.6 527.3 L69.7 525.6 L66.8 523.9 L64.0 522.0 L61.2 520.1 L58.6 518.1 L56.0 516.1 L53.5 514.0 L51.0 511.8 L48.6 509.6 L46.3 507.3 L44.1 504.9 L42.0 502.4 L39.9 499.9 L37.9 497.3 L35.9 494.7 L34.1 491.9 L32.3 489.1 L30.6 486.2 L29.0 483.2 L27.5 480.2 L26.0 477.1 L24.7 473.9 L23.4 470.6 L22.2 467.2 L21.0 463.7 L20.0 460.1 L19.1 456.5 L18.2 452.7 L17.4 448.8 L16.8 444.8 L16.2 440.7 L15.7 436.4 L15.2 431.9 L14.9 427.1 L14.7 422.1 L14.5 416.4 L14.5 408.9Z" fill="none" stroke="#0a0a0a" stroke-width="3"/>
<circle cx="94" cy="412" r="26" fill="url(#led)"/>
<path d="M93.0 180.0 L93.0 368.0" fill="none" stroke="#c64354" stroke-width="1.8"/>
<circle cx="93" cy="368" r="6.5" fill="#ee2f3b" stroke="#d42a38" stroke-width="0.8"/>
<path d="M746.0 13.2 L518.5 13.2 L518.5 78.0" fill="none" stroke="#c64354" stroke-width="1.8"/>
<circle cx="518.5" cy="78.5" r="6.5" fill="#ee2f3b" stroke="#d42a38" stroke-width="0.8"/>
<path d="M877.0 182.0 L877.0 399.0" fill="none" stroke="#c64354" stroke-width="1.8"/>
<circle cx="877" cy="399.5" r="6.5" fill="#ee2f3b" stroke="#d42a38" stroke-width="0.8"/>
<g id="usb">
<path d="M256 438.8 H350 Q359 438.8 359 448 V459 L346.5 478.3 H259.5 L246.8 459 V448 Q246.8 438.8 256 438.8Z" fill="#0b0b0b"/>
<path d="M259 444 H347 Q352.6 444 352.6 449 V458 L343 474 H263 L253 458 V449 Q253 444 259 444Z" fill="#1d1d1d" stroke="#f4f4f4" stroke-width="1.4"/>
<rect x="280" y="447.6" width="48.5" height="18.4" fill="#3f3f3f"/>
<rect x="280" y="462" width="48.5" height="4" fill="#2a2a2a"/>
<path d="M283 456.6 H327" stroke="#e6e6e6" stroke-width="2.4" stroke-dasharray="6.2 3"/>
<path d="M283 456.6 H327" stroke="#8a8a8a" stroke-width="1" stroke-dasharray="1 1"/>
</g>
<path d="M303.0 497.0 L303.0 712.0" fill="none" stroke="#c64354" stroke-width="1.8"/>
<circle cx="303" cy="496.6" r="6.5" fill="#ee2f3b" stroke="#d42a38" stroke-width="0.8"/>
<g id="jack">
<circle cx="664.6" cy="443.3" r="37.8" fill="#080808"/>
<circle cx="664.6" cy="443.3" r="34" fill="#b4e8cc"/>
<circle cx="664.6" cy="443.3" r="32.6" fill="#9bdcb6"/>
<circle cx="664.6" cy="443.3" r="25.6" fill="#7cc49c"/>
<circle cx="664.6" cy="443.3" r="24.4" fill="url(#jackIn)"/>
<path d="M646.5 432 Q649 445 648 458" stroke="#2c3c34" stroke-width="3" fill="none" opacity="0.6"/>
<path d="M660 422 Q658 440 659 462" stroke="#262626" stroke-width="7" fill="none" opacity="0.55"/>
</g>
<path d="M665.6 497.0 L665.6 674.5" fill="none" stroke="#c64354" stroke-width="1.8"/>
<circle cx="664.8" cy="496.6" r="6.5" fill="#ee2f3b" stroke="#d42a38" stroke-width="0.8"/>
<g id="switch">
<rect x="852" y="418.6" width="65.5" height="37" fill="#0b0b0b"/>
<rect x="856" y="423" width="29.5" height="28.5" fill="#2b2b2b"/>
<rect x="856.5" y="423" width="2.2" height="28.5" fill="#484848"/>
<rect x="864" y="424" width="1.2" height="27" fill="#1a1a1a"/>
<rect x="876" y="423" width="2" height="28.5" fill="#4a4a4a"/>
<rect x="882.5" y="423" width="2.4" height="28.5" fill="#505050"/>
<rect x="856" y="423" width="29.5" height="1.4" fill="#444"/>
<path d="M905.8 434 V450.5" stroke="#777" stroke-width="1.6" stroke-dasharray="1.2 0.8"/>
<path d="M912 423.5 V450.5" stroke="#5c5c5c" stroke-width="1.6" stroke-dasharray="1.2 0.8"/>
</g>
<rect x="170.5" y="777.5" width="278.5" height="212.5" rx="23" ry="23" fill="none" stroke="#bf434c" stroke-width="2.9" stroke-dasharray="11.9 6" stroke-dashoffset="14.2"/>
<rect x="572.5" y="691.8" width="424.3" height="298.5" rx="24" ry="24" fill="none" stroke="#bf434c" stroke-width="2.9" stroke-dasharray="11.9 6.1" stroke-dashoffset="14"/>
<g id="txt">
<text x="5" y="158" font-size="31.5" fill="#111" font-weight="normal" textLength="287.5" lengthAdjust="spacingAndGlyphs" stroke="#111" stroke-width="0.35">Bluetooth indicator</text>
<text x="766.4" y="23.8" font-size="31.5" fill="#111" font-weight="normal" textLength="263.3" lengthAdjust="spacingAndGlyphs" stroke="#111" stroke-width="0.35">Volume controller</text>
<text x="794" y="158" font-size="31.5" fill="#111" font-weight="normal" textLength="195.5" lengthAdjust="spacingAndGlyphs" stroke="#111" stroke-width="0.35">Power switch</text>
<text x="685.7" y="671.5" font-size="31.5" fill="#111" font-weight="normal" textLength="143" lengthAdjust="spacingAndGlyphs" stroke="#111" stroke-width="0.35">AUX input</text>
<text x="231" y="755.8" font-size="31.5" fill="#111" font-weight="normal" textLength="138.5" lengthAdjust="spacingAndGlyphs" stroke="#111" stroke-width="0.35">USB input</text>
<text x="214.5" y="423" font-size="35" fill="#727272" font-weight="normal" textLength="177.5" lengthAdjust="spacingAndGlyphs" stroke="#727272" stroke-width="0.5">USB sound</text>
<text x="627.5" y="390.9" font-size="36" fill="#727272" font-weight="normal" textLength="71" lengthAdjust="spacingAndGlyphs" stroke="#727272" stroke-width="0.5">AUX</text>
<text x="786" y="445.8" font-size="36" fill="#727272" font-weight="normal" textLength="56.5" lengthAdjust="spacingAndGlyphs" stroke="#727272" stroke-width="0.6">ON</text>
<text x="930" y="445.8" font-size="36" fill="#727272" font-weight="normal" textLength="75.5" lengthAdjust="spacingAndGlyphs" stroke="#727272" stroke-width="0.6">OFF</text>
<text x="229" y="943.5" font-size="19.5" fill="#111" font-weight="bold" textLength="180" lengthAdjust="spacingAndGlyphs">PC/Mac/Computer</text>
<text x="628.3" y="820.8" font-size="18.7" fill="#111" font-weight="bold" textLength="60.5" lengthAdjust="spacingAndGlyphs">Phone</text>
<text x="709.2" y="820.8" font-size="18.7" fill="#111" font-weight="bold" textLength="43" lengthAdjust="spacingAndGlyphs">MP3</text>
<text x="791" y="820.4" font-size="18.7" fill="#111" font-weight="bold" textLength="117.6" lengthAdjust="spacingAndGlyphs">TV/Blue–ray</text>
<text x="591.5" y="954.2" font-size="18.7" fill="#111" font-weight="bold" textLength="171" lengthAdjust="spacingAndGlyphs">CD/Media players</text>
<text x="785.6" y="951.8" font-size="18.7" fill="#111" font-weight="bold" textLength="180.5" lengthAdjust="spacingAndGlyphs">PC/Mac/Computer</text>
<text x="786.4" y="975.5" font-size="18.7" fill="#111" font-weight="bold" textLength="86.5" lengthAdjust="spacingAndGlyphs">Echo Dot</text>
</g>
<linearGradient id="m1g" x1="0" y1="0" x2="1" y2="1"><stop offset="0" stop-color="#2e2e2e"/><stop offset="0.5" stop-color="#222"/><stop offset="0.5" stop-color="#0e0e0e"/><stop offset="1" stop-color="#0a0a0a"/></linearGradient>
<linearGradient id="m1s" x1="0" y1="0" x2="0" y2="1"><stop offset="0" stop-color="#9a9a9a"/><stop offset="0.3" stop-color="#dcdcdc"/><stop offset="0.6" stop-color="#c4c4c4"/><stop offset="1" stop-color="#e6e6e6"/></linearGradient>
<linearGradient id="m1b" x1="0" y1="0" x2="0" y2="1"><stop offset="0" stop-color="#f0f0f0"/><stop offset="0.6" stop-color="#d8d8d8"/><stop offset="1" stop-color="#a8a8a8"/></linearGradient>
<g>
<rect x="246.5" y="882.0" width="20.4" height="9.3" fill="url(#m1s)"/>
<path d="M245.0 892.7 H268.5 L271.5 899.8 Q271.5 900.7 269.5 900.7 H244.0 Q242.0 900.7 242.0 899.8Z" fill="url(#m1b)"/>
<rect x="208.7" y="820.8" width="98.3" height="61.7" rx="2.6" fill="#070707"/>
<rect x="212.8" y="824.5" width="90.0" height="52.8" fill="#0c0c0c"/>
<linearGradient id="m1gl" gradientUnits="userSpaceOnUse" x1="212.8" y1="824.5" x2="250.6" y2="857.2"><stop offset="0" stop-color="#151515"/><stop offset="0.6" stop-color="#232323"/><stop offset="1" stop-color="#2e2e2e"/></linearGradient>
<path d="M212.8 824.5 H292.7 L230.8 877.3 H212.8Z" fill="url(#m1gl)"/>
<circle cx="256.8" cy="879.7" r="1" fill="#ddd"/>
</g>
<linearGradient id="l1b" x1="0" y1="0" x2="0" y2="1"><stop offset="0" stop-color="#e4e4e4"/><stop offset="0.5" stop-color="#bdbdbd"/><stop offset="1" stop-color="#8e8e8e"/></linearGradient>
<rect x="323.8" y="839.4" width="77.0" height="51.8" rx="2" fill="#060606"/>
<rect x="325.4" y="841.2" width="73.8" height="47.0" fill="#fff"/>
<path d="M314.9 891.2 H409.5 V892.4 Q409.5 894.0 404.5 894.0 H319.9 Q314.9 894.0 314.9 892.4Z" fill="url(#l1b)"/>
<linearGradient id="m2g" x1="0" y1="0" x2="1" y2="1"><stop offset="0" stop-color="#2e2e2e"/><stop offset="0.5" stop-color="#222"/><stop offset="0.5" stop-color="#0e0e0e"/><stop offset="1" stop-color="#0a0a0a"/></linearGradient>
<linearGradient id="m2s" x1="0" y1="0" x2="0" y2="1"><stop offset="0" stop-color="#9a9a9a"/><stop offset="0.3" stop-color="#dcdcdc"/><stop offset="0.6" stop-color="#c4c4c4"/><stop offset="1" stop-color="#e6e6e6"/></linearGradient>
<linearGradient id="m2b" x1="0" y1="0" x2="0" y2="1"><stop offset="0" stop-color="#f0f0f0"/><stop offset="0.6" stop-color="#d8d8d8"/><stop offset="1" stop-color="#a8a8a8"/></linearGradient>
<g>
<rect x="798.3" y="907.3" width="20.5" height="9.3" fill="url(#m2s)"/>
<path d="M796.7 918.0 H820.3 L823.3 925.1 Q823.3 926.1 821.3 926.1 H795.7 Q793.7 926.1 793.7 925.1Z" fill="url(#m2b)"/>
<rect x="760.3" y="845.9" width="98.6" height="61.9" rx="2.6" fill="#070707"/>
<rect x="764.4" y="849.6" width="90.3" height="52.9" fill="#0c0c0c"/>
<linearGradient id="m2gl" gradientUnits="userSpaceOnUse" x1="764.4" y1="849.6" x2="802.4" y2="882.4"><stop offset="0" stop-color="#151515"/><stop offset="0.6" stop-color="#232323"/><stop offset="1" stop-color="#2e2e2e"/></linearGradient>
<path d="M764.4 849.6 H844.6 L782.5 902.5 H764.4Z" fill="url(#m2gl)"/>
<circle cx="808.5" cy="905.0" r="1" fill="#ddd"/>
</g>
<linearGradient id="l2b" x1="0" y1="0" x2="0" y2="1"><stop offset="0" stop-color="#e4e4e4"/><stop offset="0.5" stop-color="#bdbdbd"/><stop offset="1" stop-color="#8e8e8e"/></linearGradient>
<rect x="876.0" y="864.7" width="76.5" height="50.9" rx="2" fill="#060606"/>
<rect x="877.6" y="866.5" width="73.3" height="46.1" fill="#fff"/>
<path d="M866.0 915.6 H962.3 V916.8 Q962.3 918.4 957.3 918.4 H871.0 Q866.0 918.4 866.0 916.8Z" fill="url(#l2b)"/>
<linearGradient id="phA" x1="0" y1="0" x2="1" y2="0"><stop offset="0" stop-color="#f23463"/><stop offset="0.36" stop-color="#ea2f62"/><stop offset="0.55" stop-color="#7a55c0"/><stop offset="0.72" stop-color="#3560d8"/><stop offset="1" stop-color="#2a4fc4"/></linearGradient>
<linearGradient id="phB" x1="0" y1="0" x2="0" y2="1"><stop offset="0.30" stop-color="#f04a2c" stop-opacity="0"/><stop offset="0.62" stop-color="#f04a2c" stop-opacity="0.95"/><stop offset="1" stop-color="#ea3a2a" stop-opacity="1"/></linearGradient>
<radialGradient id="phC" cx="0.5" cy="0.7" r="0.5" gradientTransform="translate(0.5 0.7) rotate(12) scale(0.6 0.95) translate(-0.5 -0.7)"><stop offset="0" stop-color="#fff" stop-opacity="1"/><stop offset="0.5" stop-color="#fff" stop-opacity="0.95"/><stop offset="1" stop-color="#fff" stop-opacity="0"/></radialGradient>
<radialGradient id="phD" cx="0.1" cy="0.95" r="0.45"><stop offset="0" stop-color="#fbf3f3" stop-opacity="1"/><stop offset="0.6" stop-color="#fbf3f3" stop-opacity="0.8"/><stop offset="1" stop-color="#fff" stop-opacity="0"/></radialGradient>
<clipPath id="phClip"><rect x="636.4" y="711.5" width="36.7" height="79.1" rx="3.6"/></clipPath>
<rect x="634.8" y="709.9" width="39.9" height="82.3" rx="5" fill="#2b2a3c"/>
<g clip-path="url(#phClip)">
<rect x="636.4" y="711.5" width="36.7" height="79.1" fill="url(#phA)"/>
<rect x="636.4" y="711.5" width="36.7" height="79.1" fill="url(#phB)"/>
<rect x="636.4" y="711.5" width="36.7" height="79.1" fill="url(#phC)"/>
<rect x="636.4" y="711.5" width="36.7" height="79.1" fill="url(#phD)"/>
</g>
<path d="M645.1 710.9 H664.3 V712.9 Q664.3 714.7 661.9 714.7 H647.5 Q645.1 714.7 645.1 712.9Z" fill="#1d1c2a"/>
<text x="655.9" y="728.4" font-size="6.5" fill="#fff" fill-opacity="0.75" text-anchor="middle">9:41</text>
<circle cx="666.3" cy="783.6" r="1.6" fill="#f2523c" stroke="#f8b0a0" stroke-width="0.5"/>
<circle cx="642.7" cy="783.6" r="1.6" fill="#e8e0e0"/>
<rect x="712.2" y="735.3" width="33.6" height="56.5" rx="3" fill="#4a4a4a" stroke="#6e6e6e" stroke-width="0.8"/>
<rect x="715.1" y="738.9" width="28.0" height="19.8" rx="0.8" fill="#f4f6f4" stroke="#222" stroke-width="0.7"/>
<rect x="716.2" y="740.7" width="11.6" height="13" fill="#7dbb5a"/>
<path d="M719.1 743.9 l4 -1.5 l3 4 l-3 5 l-4 -2z" fill="#e9f2dc"/>
<rect x="729.6" y="741.9" width="7" height="1.3" fill="#999"/>
<rect x="729.6" y="744.5" width="5" height="1" fill="#bbb"/>
<rect x="729.6" y="746.7" width="6" height="1" fill="#bbb"/>
<rect x="719.7" y="755.5" width="9.5" height="1.9" fill="#4f8fd0"/>
<rect x="729.7" y="755.5" width="9" height="1.9" fill="#d8dde0"/>
<circle cx="728.5" cy="775.7" r="10.3" fill="#1c1c1c"/>
<circle cx="728.5" cy="775.7" r="3.5" fill="#3e3e3e"/>
<circle cx="728.5" cy="768.7" r="0.7" fill="#aaa"/><circle cx="728.5" cy="782.7" r="0.7" fill="#aaa"/><circle cx="721.5" cy="775.7" r="0.7" fill="#aaa"/><circle cx="735.5" cy="775.7" r="0.7" fill="#aaa"/>
<linearGradient id="tvSky" x1="0" y1="0" x2="1" y2="0.6"><stop offset="0" stop-color="#3f93e4"/><stop offset="0.5" stop-color="#3a86dc"/><stop offset="1" stop-color="#3a6fcc"/></linearGradient>
<linearGradient id="tvWater" x1="0" y1="0" x2="0" y2="1"><stop offset="0" stop-color="#8c94d4"/><stop offset="0.35" stop-color="#b4bcea"/><stop offset="1" stop-color="#c6caf0"/></linearGradient>
<linearGradient id="tvMt" x1="0" y1="0" x2="0" y2="1"><stop offset="0" stop-color="#8a9ad8"/><stop offset="0.5" stop-color="#6472c0"/><stop offset="1" stop-color="#474e98"/></linearGradient>
<clipPath id="tvClip"><rect x="775.6" y="726.6" width="88.2" height="50.4"/></clipPath>
<filter id="tvBlur" x="-10%" y="-10%" width="120%" height="120%"><feGaussianBlur stdDeviation="0.9"/></filter>
<path d="M781.9 782.5 l8 -4.8 h3.4 l-7.4 5.2z" fill="#4a4a4a"/>
<path d="M857.5 782.5 l-8 -4.8 h-3.4 l7.4 5.2z" fill="#4a4a4a"/>
<rect x="774.9" y="725.9" width="89.6" height="51.8" fill="#aeb2bc"/>
<g clip-path="url(#tvClip)">
<rect x="774.9" y="725.9" width="89.6" height="51.8" fill="#f1ecf3"/>
<g filter="url(#tvBlur)">
<path d="M770.4 723.3 L821.5 723.3 C825.1 732.1 834.0 738.9 828.7 746.6 L815.2 749.2 L770.4 744.0Z" fill="url(#tvSky)"/>
<ellipse cx="790.1" cy="746.6" rx="17.9" ry="7.8" fill="#f7f6fb"/>
<ellipse cx="807.2" cy="749.7" rx="12.5" ry="6.7" fill="#f3f2fa"/>
<ellipse cx="779.4" cy="741.4" rx="10.8" ry="4.1" fill="#e9eefa"/>
<ellipse cx="801.8" cy="739.9" rx="8.1" ry="3.1" fill="#dfe8f8"/>
<path d="M770.4 759.1 L783.9 755.4 L794.6 758.5 L808.9 754.4 L819.7 746.6 L825.1 744.0 L829.6 746.6 L837.6 754.9 L850.2 759.1 L869.0 764.2 L869.0 768.4 L770.4 768.4Z" fill="url(#tvMt)"/>
<path d="M816.1 750.2 L822.4 745.6 L826.0 745.6 L827.8 754.4 L821.5 751.8Z" fill="#c2cbee"/>
</g>
<rect x="774.9" y="767.3" width="89.6" height="10.4" fill="url(#tvWater)"/>
<rect x="774.9" y="766.3" width="89.6" height="1.4" fill="#34355e"/>
<rect x="782.1" y="771.0" width="53.8" height="1.8" fill="#e6e8fa" opacity="0.85" filter="url(#tvBlur)"/>
</g>
<linearGradient id="rtF" x1="0" y1="0" x2="1" y2="0"><stop offset="0" stop-color="#c8c8c8"/><stop offset="0.3" stop-color="#f4f4f4"/><stop offset="0.7" stop-color="#e0e0e0"/><stop offset="1" stop-color="#b0b0b0"/></linearGradient>
<path d="M873.9 743.6 h1.5 l0.6 29.8 h-2.7z" fill="#101010"/>
<path d="M885.1 744.8 h1.5 l0.6 28.6 h-2.7z" fill="#101010"/>
<path d="M912.2 744.6 h1.5 l0.6 28.8 h-2.7z" fill="#101010"/>
<path d="M921.9 743.2 h1.5 l0.6 30.2 h-2.7z" fill="#101010"/>
<path d="M875.6 769.4 H922.4 L925.4 776.0 H872.6Z" fill="#131313"/>
<rect x="872.6" y="775.8" width="52.8" height="5.6" fill="url(#rtF)" stroke="#161616" stroke-width="0.9"/>
<linearGradient id="cdF" x1="0" y1="0" x2="0" y2="1"><stop offset="0" stop-color="#1c1c1c"/><stop offset="0.2" stop-color="#0b0b0b"/><stop offset="1" stop-color="#050505"/></linearGradient>
<linearGradient id="cdFt" x1="0" y1="0" x2="1" y2="0"><stop offset="0" stop-color="#777"/><stop offset="0.5" stop-color="#e4e4e4"/><stop offset="1" stop-color="#888"/></linearGradient>
<rect x="607.0" y="914.7" width="11.5" height="3.6" rx="1" fill="url(#cdFt)"/>
<rect x="697.4" y="914.7" width="11.5" height="3.6" rx="1" fill="url(#cdFt)"/>
<path d="M608.0 885.8 H710.9 L718.4 890.6 H599.0Z" fill="#181818"/>
<rect x="599.0" y="890.1" width="119.4" height="25.1" rx="1.2" fill="url(#cdF)"/>
<rect x="622.3" y="890.9" width="74.4" height="23.5" fill="#161616"/>
<rect x="639.4" y="900.7" width="38.2" height="11.2" fill="#040404" stroke="#2c2c2c" stroke-width="0.7"/>
<rect x="632.0" y="897.1" width="52" height="1" fill="#2e2e2e"/>
<rect x="652.0" y="891.7" width="13" height="1.7" fill="#6a6a6a"/>
<circle cx="617.5" cy="910.2" r="1.3" fill="#2e2e2e"/>
<!--ICONS4-->
</svg>
</body></html>
